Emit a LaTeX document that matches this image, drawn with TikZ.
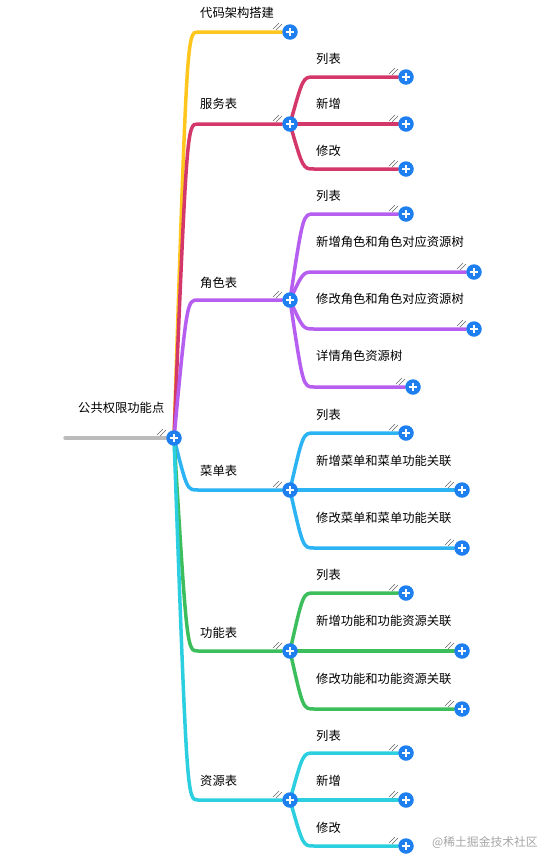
\documentclass[tikz,border=0pt]{standalone}
\usepackage{fontspec}
\newfontfamily\cjk{Noto Sans CJK SC}
\usetikzlibrary{calc, backgrounds}

\definecolor{plusblue}{HTML}{1E80F0}
\definecolor{rootgray}{HTML}{BBBBBB}
\definecolor{codeyellow}{HTML}{FFC61E}
\definecolor{svccrimson}{HTML}{D4376A}
\definecolor{rolepurple}{HTML}{B65EF0}
\definecolor{menublue}{HTML}{2BB3F3}
\definecolor{funcgreen}{HTML}{3DBE5C}
\definecolor{rescyan}{HTML}{2CCFE0}

\begin{document}
\begin{tikzpicture}[
    x=1pt, y=-1pt,
    plusbtn/.style={circle, fill=plusblue, minimum size=15.5pt, inner sep=0pt,
        path picture={\draw[white, line width=2pt]
            ($(path picture bounding box.center)+(-4.2,0)$) -- ++(8.4,0)
            ($(path picture bounding box.center)+(0,-4.2)$) -- ++(0,8.4);}},
    topic/.style={anchor=west, inner sep=0pt, font=\cjk\fontsize{12.3}{14}\selectfont},
    branch/.style={line width=3.5pt, line cap=round, draw=#1,
        to path={.. controls ($(\tikztostart |- \tikztotarget)+(13,0)$)
            .. ($(\tikztostart |- \tikztotarget)+(24,0)$) -- (\tikztotarget)}},
    slash/.style={draw=black!60, line width=0.5pt},
]
\useasboundingbox (0,0) rectangle (558,865);

% plus buttons
\node[plusbtn] (root) at (174,438) {};
\coordinate (rootend) at (65,438);

\node[plusbtn] (code) at (290,32) {};
\node[plusbtn] (svc)  at (290,124) {};
\node[plusbtn] (role) at (290,300) {};
\node[plusbtn] (menu) at (290,490) {};
\node[plusbtn] (func) at (290,651) {};
\node[plusbtn] (res)  at (290,800) {};

\node[plusbtn] (svcA) at (406,77) {};
\node[plusbtn] (svcB) at (406,124) {};
\node[plusbtn] (svcC) at (406,169) {};

\node[plusbtn] (roleA) at (406,214) {};
\node[plusbtn] (roleB) at (474,272) {};
\node[plusbtn] (roleC) at (474,329) {};
\node[plusbtn] (roleD) at (413,387) {};

\node[plusbtn] (menuA) at (406,433) {};
\node[plusbtn] (menuB) at (462,490) {};
\node[plusbtn] (menuC) at (462,548) {};

\node[plusbtn] (funcA) at (406,593) {};
\node[plusbtn] (funcB) at (462,651) {};
\node[plusbtn] (funcC) at (462,709) {};

\node[plusbtn] (resA) at (406,753) {};
\node[plusbtn] (resB) at (406,800) {};
\node[plusbtn] (resC) at (406,846) {};

% labels
\node[topic] (rootlbl) at (78,408) {公共权限功能点};
\node[topic] (codelbl) at (200,13) {代码架构搭建};
\node[topic] (svclbl)  at (200,104) {服务表};
\node[topic] (rolelbl) at (200,283) {角色表};
\node[topic] (menulbl) at (200,471) {菜单表};
\node[topic] (funclbl) at (200,633) {功能表};
\node[topic] (reslbl)  at (200,781) {资源表};

\node[topic] (svcAlbl) at (316,59) {列表};
\node[topic] (svcBlbl) at (316,104) {新增};
\node[topic] (svcClbl) at (316,151) {修改};

\node[topic] (roleAlbl) at (316,196) {列表};
\node[topic] (roleBlbl) at (316,242) {新增角色和角色对应资源树};
\node[topic] (roleClbl) at (316,299) {修改角色和角色对应资源树};
\node[topic] (roleDlbl) at (316,356) {详情角色资源树};

\node[topic] (menuAlbl) at (316,415) {列表};
\node[topic] (menuBlbl) at (316,461) {新增菜单和菜单功能关联};
\node[topic] (menuClbl) at (316,518) {修改菜单和菜单功能关联};

\node[topic] (funcAlbl) at (316,575) {列表};
\node[topic] (funcBlbl) at (316,621) {新增功能和功能资源关联};
\node[topic] (funcClbl) at (316,679) {修改功能和功能资源关联};

\node[topic] (resAlbl) at (316,736) {列表};
\node[topic] (resBlbl) at (316,781) {新增};
\node[topic] (resClbl) at (316,828) {修改};

\node[topic, text=black!35, font=\cjk\fontsize{11.8}{13}\selectfont] (mark) at (432,842) {@稀土掘金技术社区};

% branches
\begin{scope}[on background layer]
\fill[white] (0,0) rectangle (558,865);
\draw[line width=3.5pt, line cap=round, rootgray] (rootend) -- (root.center);

\draw[branch=codeyellow] (root.center) to (code);
\draw[branch=svccrimson] (root.center) to (svc);
\draw[branch=rolepurple] (root.center) to (role);
\draw[branch=menublue] (root.center) to (menu);
\draw[branch=funcgreen] (root.center) to (func);
\draw[branch=rescyan] (root.center) to (res);

\foreach \c in {svcA, svcB, svcC} \draw[branch=svccrimson] (svc.center) to (\c);
\foreach \c in {roleA, roleB, roleC, roleD} \draw[branch=rolepurple] (role.center) to (\c);
\foreach \c in {menuA, menuB, menuC} \draw[branch=menublue] (menu.center) to (\c);
\foreach \c in {funcA, funcB, funcC} \draw[branch=funcgreen] (func.center) to (\c);
\foreach \c in {resA, resB, resC} \draw[branch=rescyan] (res.center) to (\c);
\end{scope}

% folded marks
\foreach \n in {root, code, svc, role, menu, func, res, svcA, svcB, svcC,
    roleA, roleB, roleC, roleD, menuA, menuB, menuC, funcA, funcB, funcC,
    resA, resB, resC}
    \draw[slash] ($(\n)+(-17,-3)$) -- ++(6,-6) ($(\n)+(-14,-2)$) -- ++(6,-6);

\end{tikzpicture}
\end{document}
